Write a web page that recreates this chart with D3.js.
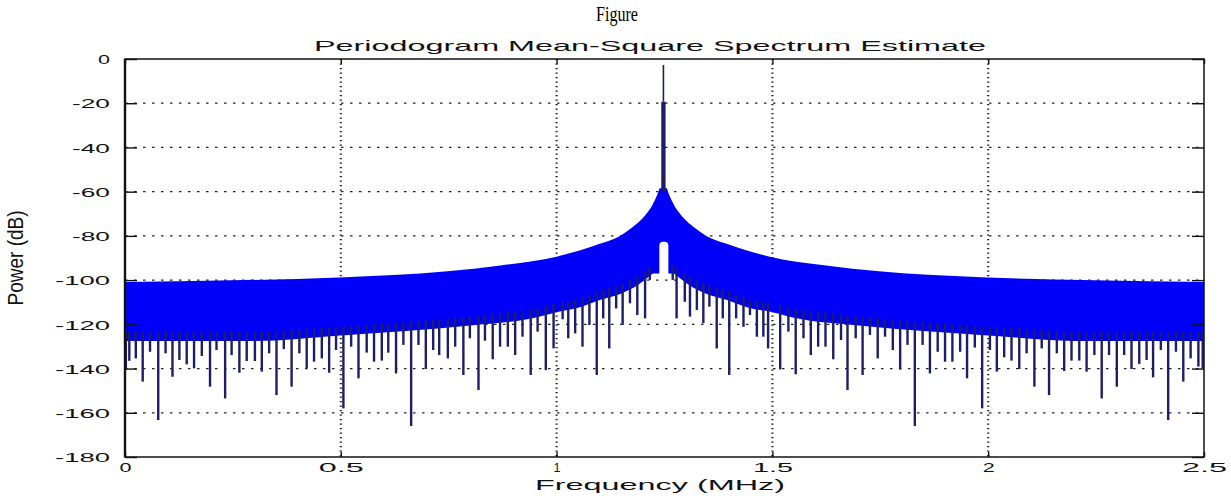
<!DOCTYPE html>
<html><head><meta charset="utf-8">
<script src="https://cdn.jsdelivr.net/npm/d3@7"></script>
<style>body{margin:0;background:#fff}svg{display:block}</style>
</head><body><div id="chart"></div>
<script>
// ---------- data ----------
const xTicks = [0, 0.5, 1, 1.5, 2, 2.5];
const xTickLabels = ["0", "0.5", "1", "1.5", "2", "2.5"];
const xTickLabelWidths = [12, 45, 7, 40, 12, 45];
const yTicks = [0, -20, -40, -60, -80, -100, -120, -140, -160, -180];
const yTickLabels = ["0", "-20", "-40", "-60", "-80", "-100", "-120", "-140", "-160", "-180"];
const yTickLabelWidths = [12, 38, 38, 38, 38, 55, 55, 55, 55, 55];

// upper envelope of the dense spectrum band (MHz, dB)
const upperFreq = [0, 0.247, 0.497, 0.747, 0.87, 1.0, 1.1, 1.147, 1.178, 1.197, 1.209, 1.222, 1.232, 1.236, 1.239,
                   1.255, 1.258, 1.262, 1.272, 1.285, 1.297, 1.316, 1.347, 1.394, 1.494, 1.624, 1.747, 1.997, 2.247, 2.5];
const upperDb   = [-100.8, -100.1, -98.8, -96.0, -93.4, -89.4, -83.6, -80.0, -75.8, -72.5, -69.8, -66.0, -62.0, -60.0, -58.5,
                   -58.5, -60.0, -62.0, -66.0, -69.8, -72.5, -75.8, -80.0, -83.6, -89.4, -93.4, -96.0, -98.8, -100.1, -100.8];
// lower edge of the solid band (MHz, dB)
const lowerFreq = [0, 0.3, 0.5, 0.65, 0.8, 0.95, 1.0, 1.05, 1.1, 1.15, 1.19, 1.21, 1.225,
                   1.27, 1.285, 1.305, 1.345, 1.395, 1.445, 1.5, 1.55, 1.7, 1.85, 2.0, 2.2, 2.5];
const lowerDb   = [-127.5, -127.5, -125, -123, -120.5, -117, -114.5, -112.5, -109, -106, -102, -99, -97,
                   -97, -99, -102, -106, -109, -112.5, -114.5, -117, -120.5, -123, -125, -127.5, -127.5];

// carrier peak
const peakFreq = 1.2475, peakDb = -2.7;
const peakBlockFreq = [1.2425, 1.2525], peakBlockDb = -19.3, peakBlockBaseDb = -60;
// notch (white gap) under the carrier
const gapFreq = [1.238, 1.259], gapTopDb = -82.6, gapBottomDb = -99;

// nulls of the spectrum (MHz, dB at bottom of each null)
const spikeFreq = [0.002,0.010,0.025,0.041,0.058,0.077,0.094,0.110,0.126,0.143,0.160,0.178,0.197,0.212,0.232,0.247,0.265,0.282,0.301,0.317,0.334,0.351,0.368,0.386,0.404,0.421,0.438,0.456,0.473,0.489,
  0.506,0.524,0.541,0.560,0.577,0.595,0.610,0.628,0.645,0.663,0.680,0.697,0.714,0.728,0.748,0.765,0.784,0.799,0.819,0.834,0.852,0.869,0.887,0.904,0.921,0.940,0.956,0.975,0.993,
  1.014,1.027,1.043,1.060,1.076,1.093,1.108,1.122,1.138,1.153,1.170,1.187,1.205,1.216,
  1.269,1.278,1.297,1.309,1.325,1.340,1.354,1.371,1.385,1.400,1.416,1.433,1.448,1.464,1.479,1.490,
  1.518,1.537,1.554,1.572,1.589,1.606,1.623,1.641,1.659,1.674,1.693,1.709,1.726,1.744,1.761,1.779,1.796,1.813,1.830,1.848,1.865,1.883,1.900,1.917,1.935,1.951,1.969,1.986,
  2.004,2.020,2.037,2.054,2.072,2.089,2.107,2.124,2.141,2.159,2.176,2.193,2.211,2.228,2.246,2.263,2.280,2.298,2.315,2.332,2.350,2.367,2.382,2.400,2.417,2.435,2.452,2.469,2.487,2.497];
const spikeDb = [-139.8,-136.5,-135.4,-145.9,-132.4,-163.3,-133.1,-143.7,-136.1,-138.1,-139.9,-134.3,-148.2,-131.6,-153.5,-133.9,-141.9,-136.6,-136.6,-141.4,-133.1,-152.0,-131.2,-148.2,-133.1,-139.9,-136.9,-135.4,-141.9,-131.6,
  -158.0,-130.1,-144.4,-132.8,-136.9,-136.4,-132.8,-142.2,-129.3,-166.0,-129.3,-140.2,-131.6,-133.9,-135.4,-130.1,-142.9,-126.3,-149.7,-127.4,-135.8,-130.1,-130.1,-133.9,-125.6,-142.9,-123.3,-140.7,-130.9,
  -117.7,-126.3,-124.1,-130.1,-120.3,-142.9,-117.3,-130.9,-112.8,-120.3,-110.5,-115.8,-117.3,-99.9,
  -99.9,-117.3,-109.8,-116.5,-113.5,-119.5,-112.0,-130.9,-117.3,-142.9,-117.3,-121.1,-115.8,-125.6,-125.6,-130.9,
  -140.4,-123.3,-142.6,-126.3,-133.9,-130.1,-130.1,-135.8,-127.1,-149.7,-126.3,-142.9,-124.8,-135.4,-125.6,-131.6,-140.4,-129.3,-166.0,-129.3,-142.2,-132.4,-136.9,-136.9,-132.4,-144.4,-130.5,-158.0,
  -131.6,-141.4,-134.9,-136.4,-140.2,-133.1,-148.2,-130.9,-152.0,-133.1,-141.1,-136.4,-136.4,-141.4,-133.9,-153.5,-133.9,-148.2,-133.9,-140.2,-137.9,-136.1,-144.0,-131.6,-163.3,-132.4,-145.9,-135.4,-139.1,-140.0];

const figureTitle = "Figure";
const chartTitle = "Periodogram Mean-Square Spectrum Estimate";
const xLabel = "Frequency (MHz)";
const yLabel = "Power (dB)";

// ---------- drawing ----------
const W = 1231, H = 502;
const L = 125, R = 1204, T = 59, B = 457;
const svg = d3.select("#chart").append("svg").attr("width", W).attr("height", H)
  .style("font-family", "'Liberation Sans', Arial, sans-serif");

const x = d3.scaleLinear().domain([0, 2.5]).range([L, R]);
const y = d3.scaleLinear().domain([-180, 0]).range([B, T]);
const lowerAt = d3.scaleLinear().domain(lowerFreq).range(lowerDb);

svg.append("rect").attr("x", 0).attr("y", 0).attr("width", W).attr("height", H).attr("fill", "#fff");

// grid (beneath data)
const grid = svg.append("g");
grid.selectAll("line.h").data(yTicks.filter(v => v < 0 && v > -180)).join("line")
  .attr("x1", L).attr("x2", R).attr("y1", d => y(d)).attr("y2", d => y(d))
  .attr("stroke", "#222").attr("stroke-width", 1.3).attr("stroke-dasharray", "2.5,6.5");
grid.selectAll("line.v").data(xTicks.filter(v => v > 0 && v < 2.5)).join("line")
  .attr("x1", d => x(d)).attr("x2", d => x(d)).attr("y1", T).attr("y2", B)
  .attr("stroke", "#222").attr("stroke-width", 2.2).attr("stroke-dasharray", "1.3,3.2");

// dense band: area under the upper envelope, clipped to lie above the lower edge
const upperPts = upperFreq.map((f, i) => [f, upperDb[i]]);
const lowerPts = lowerFreq.map((f, i) => [f, lowerDb[i]]);
const defs = svg.append("defs");
defs.append("clipPath").attr("id", "bandClip").append("path")
  .attr("d", d3.area().x(d => x(d[0])).y0(T - 5).y1(d => y(d[1])).curve(d3.curveMonotoneX)(lowerPts));
svg.append("path")
  .attr("d", d3.area().x(d => x(d[0])).y0(B).y1(d => y(d[1])).curve(d3.curveMonotoneX)(upperPts))
  .attr("fill", "#0000fa").attr("clip-path", "url(#bandClip)");

// notch under the carrier
svg.append("rect").attr("x", x(gapFreq[0])).attr("width", x(gapFreq[1]) - x(gapFreq[0]))
  .attr("y", y(gapTopDb)).attr("height", y(gapBottomDb) - y(gapTopDb)).attr("rx", 4)
  .attr("fill", "#fff");

// nulls
const navy = "#1e1e66";
svg.append("g").selectAll("line").data(spikeFreq.map((f, i) => [f, spikeDb[i]])).join("line")
  .attr("x1", d => x(d[0])).attr("x2", d => x(d[0]))
  .attr("y1", d => y(lowerAt(d[0]) + 4)).attr("y2", d => y(d[1]))
  .attr("stroke", navy).attr("stroke-width", 2.4);

// carrier
svg.append("rect").attr("x", x(peakBlockFreq[0])).attr("width", x(peakBlockFreq[1]) - x(peakBlockFreq[0]))
  .attr("y", y(peakBlockDb)).attr("height", y(peakBlockBaseDb) - y(peakBlockDb)).attr("fill", navy);
svg.append("line").attr("x1", x(peakFreq)).attr("x2", x(peakFreq))
  .attr("y1", y(peakDb)).attr("y2", y(peakBlockDb)).attr("stroke", navy).attr("stroke-width", 1.6);

// axes
const yAxisL = d3.axisLeft(y).tickValues(yTicks).tickSizeInner(-12).tickSizeOuter(0).tickPadding(15)
  .tickFormat((d, i) => yTickLabels[i]);
const gL = svg.append("g").attr("transform", `translate(${L},0)`).call(yAxisL);
const xAxisB = d3.axisBottom(x).tickValues(xTicks).tickSizeInner(-5).tickSizeOuter(0).tickPadding(8)
  .tickFormat((d, i) => xTickLabels[i]);
const gB = svg.append("g").attr("transform", `translate(0,${B})`).call(xAxisB);
const gT = svg.append("g").attr("transform", `translate(0,${T})`)
  .call(d3.axisTop(x).tickValues(xTicks).tickSizeInner(-5).tickSizeOuter(0).tickFormat(""));
const gR = svg.append("g").attr("transform", `translate(${R},0)`)
  .call(d3.axisRight(y).tickValues(yTicks).tickSizeInner(-12).tickSizeOuter(0).tickFormat(""));
[gL, gB, gT, gR].forEach(g => {
  g.select(".domain").remove();
  g.selectAll(".tick line").attr("stroke", "#111").attr("stroke-width", 1.4);
});
gL.selectAll(".tick text").attr("font-size", 13).attr("fill", "#111").attr("dy", "0.36em")
  .attr("textLength", (d, i) => yTickLabelWidths[i]).attr("lengthAdjust", "spacingAndGlyphs")
  .attr("font-family", "'Liberation Sans', Arial, sans-serif");
gB.selectAll(".tick text").attr("font-size", 13).attr("fill", "#111").attr("y", 15).attr("dy", 0)
  .attr("textLength", (d, i) => xTickLabelWidths[i]).attr("lengthAdjust", "spacingAndGlyphs")
  .attr("font-family", "'Liberation Sans', Arial, sans-serif");

// box
svg.append("rect").attr("x", L).attr("y", T).attr("width", R - L).attr("height", B - T)
  .attr("fill", "none").attr("stroke", "#111").attr("stroke-width", 1.5);
svg.append("line").attr("x1", L).attr("x2", L).attr("y1", T).attr("y2", B)
  .attr("stroke", "#111").attr("stroke-width", 2.4);

// texts
svg.append("text").text(figureTitle).attr("x", 617).attr("y", 21).attr("text-anchor", "middle")
  .attr("font-family", "'Liberation Serif', 'Times New Roman', serif").attr("font-size", 20)
  .attr("textLength", 42).attr("lengthAdjust", "spacingAndGlyphs").attr("fill", "#000");
svg.append("text").text(chartTitle).attr("x", 650).attr("y", 51).attr("text-anchor", "middle")
  .attr("font-size", 15).attr("textLength", 672).attr("lengthAdjust", "spacingAndGlyphs").attr("fill", "#111");
svg.append("text").text(xLabel).attr("x", 660).attr("y", 490).attr("text-anchor", "middle")
  .attr("font-size", 14).attr("textLength", 250).attr("lengthAdjust", "spacingAndGlyphs").attr("fill", "#111");
svg.append("text").text(yLabel)
  .attr("transform", `translate(23,${(T + B) / 2}) scale(1.6,1) rotate(-90)`)
  .attr("text-anchor", "middle").attr("font-size", 14)
  .attr("textLength", 95).attr("lengthAdjust", "spacingAndGlyphs").attr("fill", "#111");
</script></body></html>
